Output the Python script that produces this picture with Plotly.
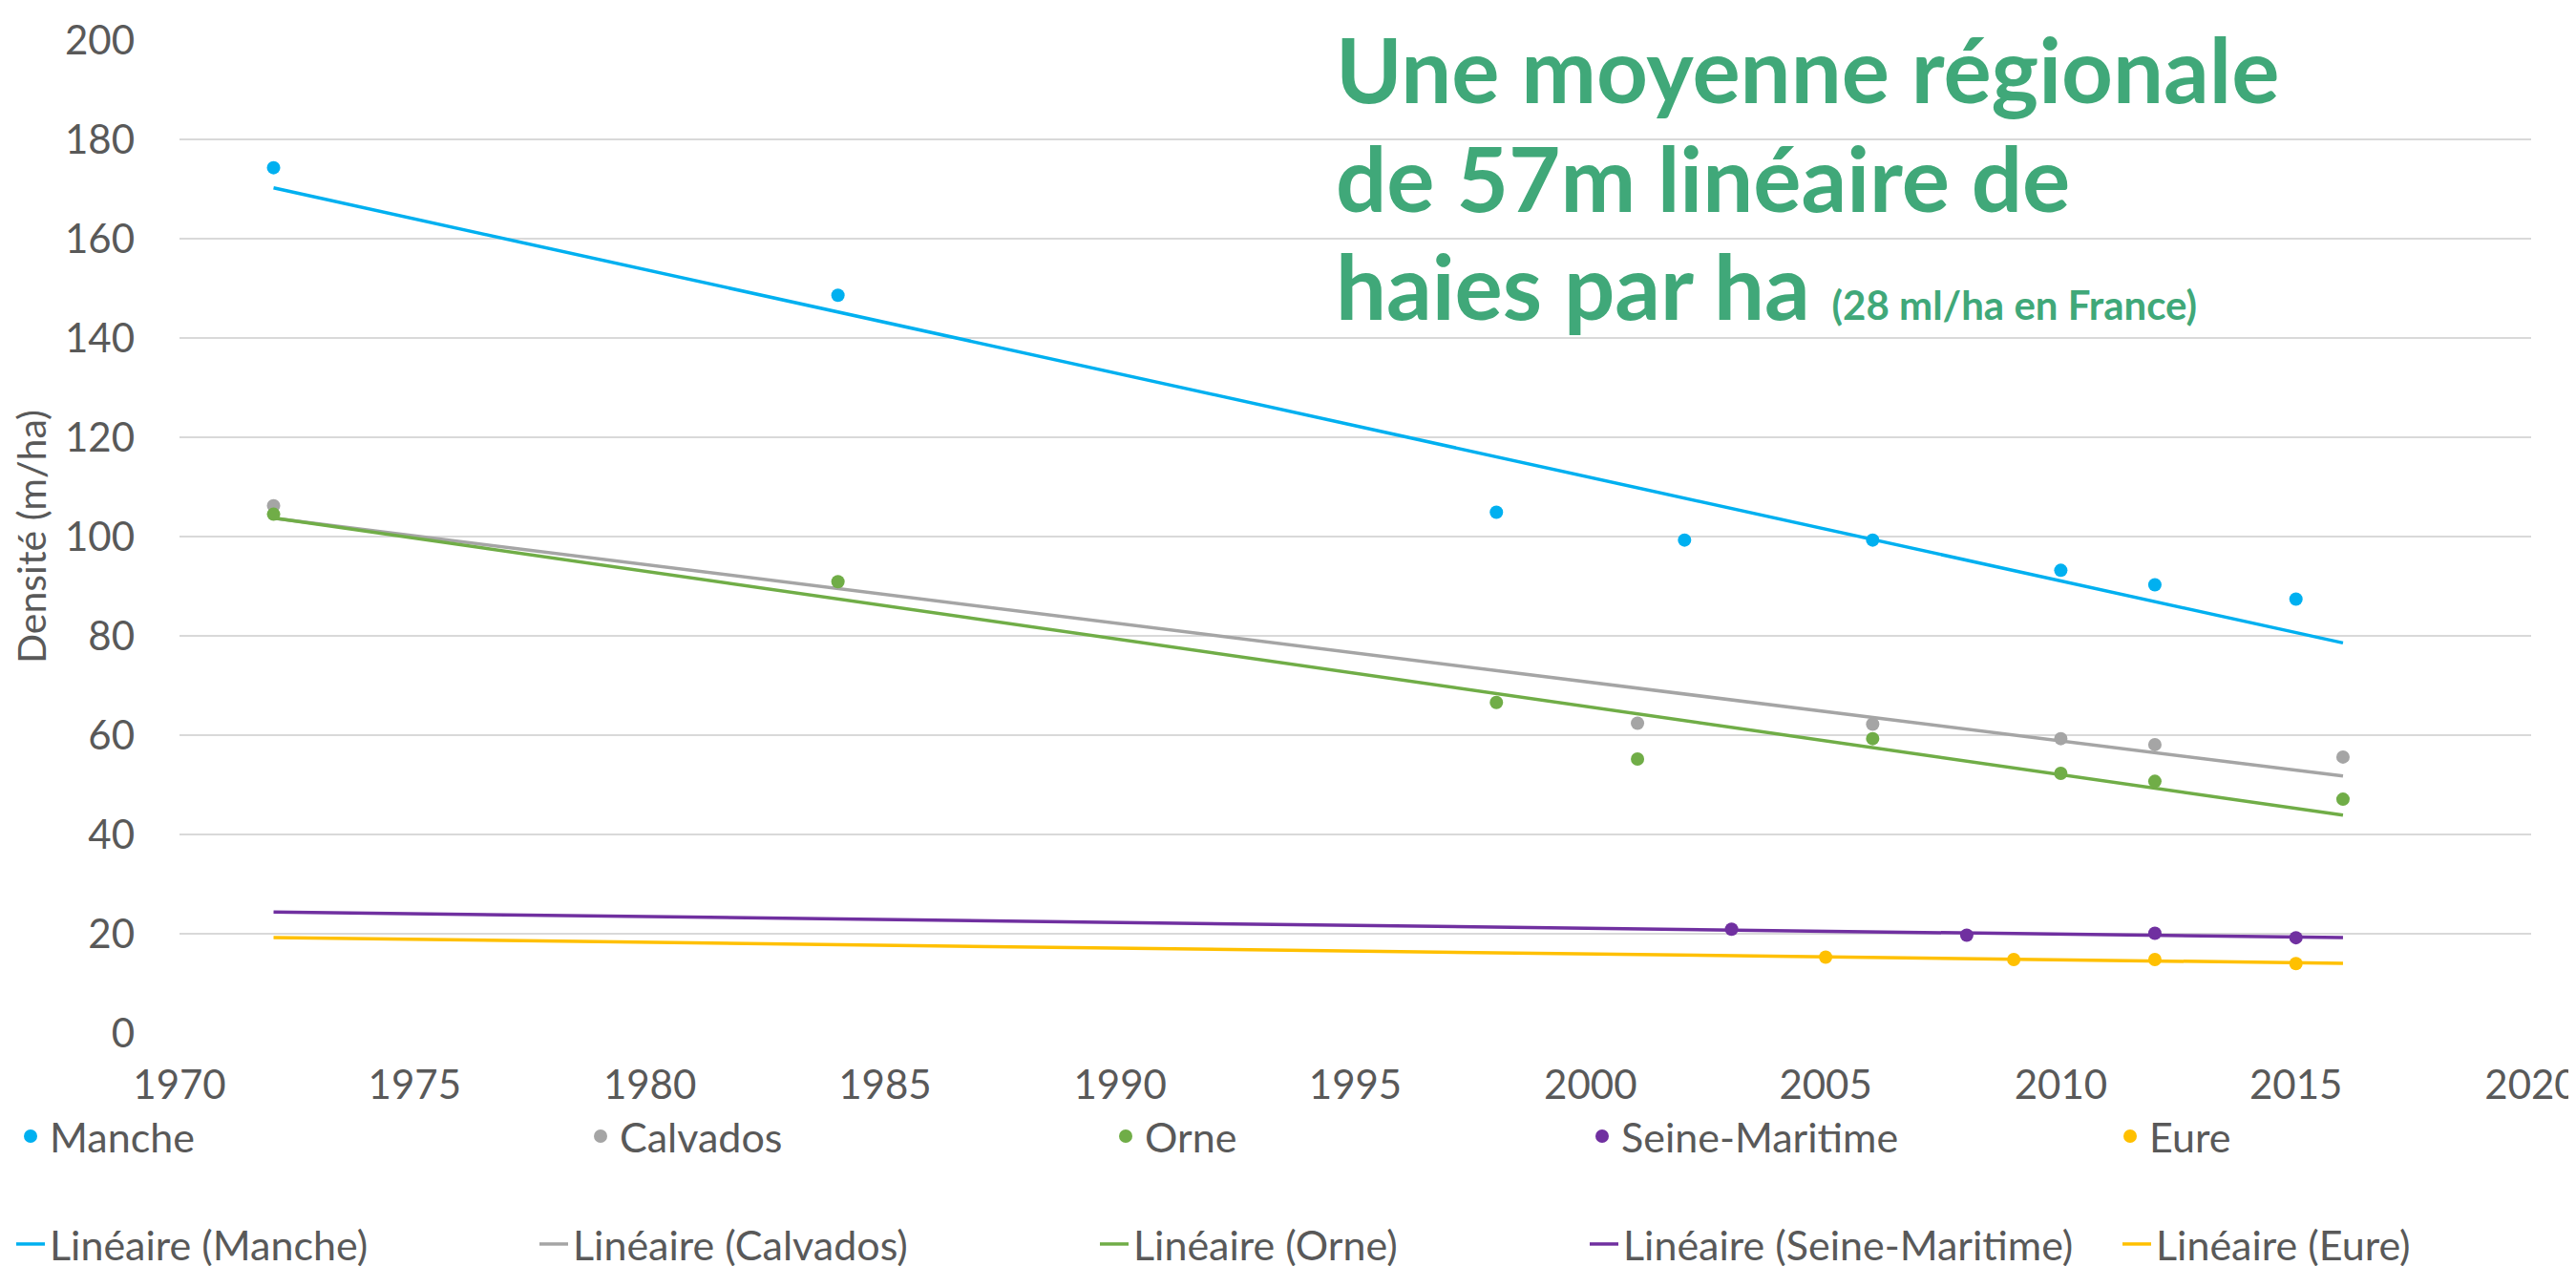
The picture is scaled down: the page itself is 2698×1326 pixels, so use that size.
import numpy as np
import plotly.graph_objects as go

# ---------------- data ----------------
years_manche = [1972, 1984, 1998, 2002, 2006, 2010, 2012, 2015]
dens_manche = [174.3, 148.6, 104.9, 99.3, 99.3, 93.2, 90.3, 87.4]

years_calvados = [1972, 2001, 2006, 2010, 2012, 2016]
dens_calvados = [106.2, 62.4, 62.2, 59.3, 58.1, 55.6]

years_orne = [1972, 1984, 1998, 2001, 2006, 2010, 2012, 2016]
dens_orne = [104.5, 90.9, 66.6, 55.2, 59.3, 52.3, 50.7, 47.1]

years_seine = [2003, 2008, 2012, 2015]
dens_seine = [20.9, 19.7, 20.1, 19.2]

years_eure = [2005, 2009, 2012, 2015]
dens_eure = [15.3, 14.8, 14.8, 14.0]

series_names = ["Manche", "Calvados", "Orne", "Seine-Maritime", "Eure"]
trend_years = [1972, 2016]
x_ticks = [1970, 1975, 1980, 1985, 1990, 1995, 2000, 2005, 2010, 2015, 2020]
y_ticks = [0, 20, 40, 60, 80, 100, 120, 140, 160, 180, 200]

# ---------------- styles ----------------
colors = ["#00B0F0", "#A5A5A5", "#70AD47", "#7030A0", "#FFC000"]
marker_legend_w = [552, 505, 454, 508, 80]
line_legend_w = [503, 542, 468, 513, 270]
TXT = "#595959"
FONT = "Lato"
GREEN = "#40A879"

all_x = [years_manche, years_calvados, years_orne, years_seine, years_eure]
all_y = [dens_manche, dens_calvados, dens_orne, dens_seine, dens_eure]

fig = go.Figure()

# trend lines (least squares, as Excel "Linéaire")
for name, xs, ys, c, lw in zip(series_names, all_x, all_y, colors, line_legend_w):
    slope, intercept = np.polyfit(xs, ys, 1)
    tx = np.array(trend_years, dtype=float)
    fig.add_trace(go.Scatter(
        x=tx, y=slope * tx + intercept, mode="lines",
        line=dict(color=c, width=3.5),
        name=f"Linéaire ({name})", legend="legend2", legendwidth=lw,
        hoverinfo="skip"))

# data points
for name, xs, ys, c, lw in zip(series_names, all_x, all_y, colors, marker_legend_w):
    fig.add_trace(go.Scatter(
        x=xs, y=ys, mode="markers",
        marker=dict(color=c, size=14),
        name=name, legend="legend", legendwidth=lw))

W, H = 2698, 1326
ML, MR, MT, MB = 180, 55, 34, 252
PH = H - MT - MB
PW = W - ML - MR


def py(Y):
    return (H - MB - Y) / PH


def px(X):
    return (X - ML) / PW


fig.update_layout(
    width=W, height=H,
    margin=dict(l=ML, r=MR, t=MT, b=MB, autoexpand=False),
    paper_bgcolor="white", plot_bgcolor="white",
    font=dict(family=FONT, color=TXT, size=42),
    xaxis=dict(range=[1970, 2020], tickvals=x_ticks, showgrid=False,
               zeroline=False, showline=False, ticks="",
               tickfont=dict(size=42, color=TXT, family=FONT),
               ticklabelstandoff=26),
    yaxis=dict(range=[0, 200], tickvals=y_ticks, showgrid=True,
               gridcolor="#D9D9D9", gridwidth=2, zeroline=False,
               showline=False, ticks="",
               tickfont=dict(size=42, color=TXT, family=FONT),
               ticklabelstandoff=46,
               title=dict(text="Densité (m/ha)", standoff=6,
                          font=dict(size=41, color=TXT, family=FONT))),
    legend=dict(orientation="h", x=px(4), xanchor="left", y=py(1182),
                yanchor="middle", font=dict(size=43, color=TXT, family=FONT),
                bgcolor="rgba(0,0,0,0)", traceorder="normal"),
    legend2=dict(orientation="h", x=px(4), xanchor="left", y=py(1295),
                 yanchor="middle", font=dict(size=43, color=TXT, family=FONT),
                 bgcolor="rgba(0,0,0,0)", traceorder="normal"),
    showlegend=True,
)

ann_font = dict(family=FONT, size=94, color=GREEN)
lines = [
    ("<b>Une moyenne régionale</b>", 110),
    ("<b>de 57m linéaire de</b>", 224),
    ("<b>haies par ha </b><span style='font-size:42px'><b>(28 ml/ha en France)</b></span>", 337),
]
for text, base in lines:
    fig.add_annotation(text=text, xref="paper", yref="paper",
                       x=px(1389), y=py(base + 12), xanchor="left",
                       yanchor="bottom", showarrow=False, font=ann_font,
                       align="left")

fig.write_html("out.html")
